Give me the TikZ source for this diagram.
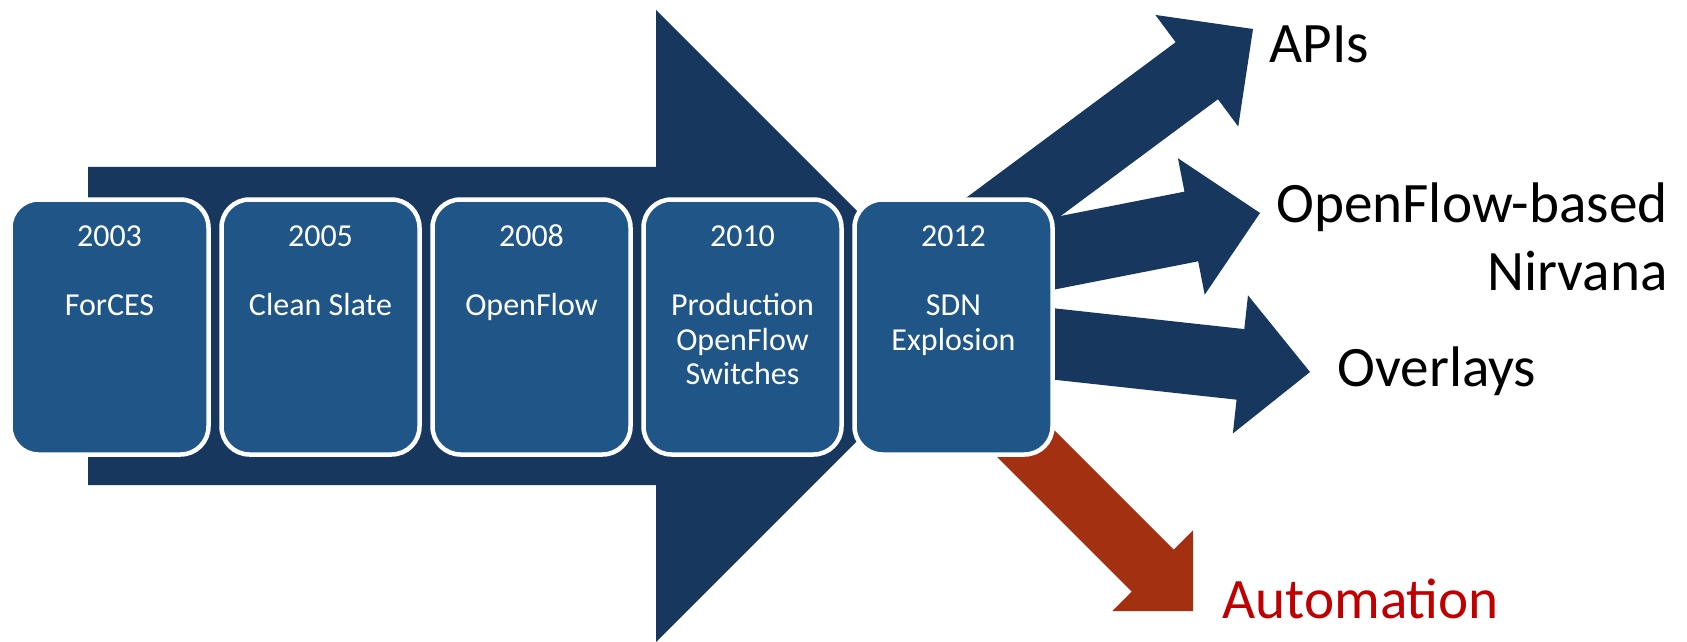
\documentclass[tikz,border=0pt]{standalone}
\usepackage{fontspec}
\setmainfont{Carlito}
\usetikzlibrary{calc}
\definecolor{arrowblue}{HTML}{17375E}
\definecolor{boxblue}{HTML}{1F5687}
\definecolor{arrowred}{HTML}{A33010}
\definecolor{textred}{HTML}{C00000}
% #1 colour, #2 tail, #3 tip, #4 half shaft width, #5 half head width, #6 head length
\newcommand{\myblockarrow}[6]{%
  \coordinate (ba-h) at ($(#3)!#6!(#2)$);
  \fill[#1] ($(#2)!#4!90:(#3)$) -- ($(ba-h)!#4!-90:(#2)$) -- ($(ba-h)!#5!-90:(#2)$)
    -- (#3) -- ($(ba-h)!#5!90:(#2)$) -- ($(ba-h)!#4!90:(#2)$) -- ($(#2)!#4!-90:(#3)$) -- cycle;
}
\tikzset{
  yearbox/.style={draw=white, line width=2.25pt, fill=boxblue, rounded corners=14pt,
    minimum width=99pt, minimum height=127.5pt, inner sep=0pt},
  boxtext/.style={anchor=base, inner sep=0pt, text=white, font=\fontsize{16pt}{19pt}\selectfont},
  bigtext/.style={inner sep=0pt, text=black, font=\fontsize{28.6pt}{34pt}\selectfont},
}
\begin{document}
\begin{tikzpicture}[x=0.5pt, y=-0.5pt]
\useasboundingbox (0,0) rectangle (1687,642);
% big background arrow
\fill[arrowblue] (88,167) -- (656,167) -- (656,10) -- (972,326) -- (656,642) -- (656,485) -- (88,485) -- cycle;
% outgoing arrows
\coordinate (apiT) at (985,228);  \coordinate (apiP) at (1253,29);
\coordinate (ofT) at (990,266);   \coordinate (ofP) at (1260,213);
\coordinate (ovT) at (990,337);   \coordinate (ovP) at (1310,372);
\coordinate (auT) at (1000,418);  \coordinate (auP) at (1193,611);
\myblockarrow{arrowblue}{apiT}{apiP}{17.75pt}{34.75pt}{35pt}
\myblockarrow{arrowblue}{ofT}{ofP}{17.75pt}{34.75pt}{35pt}
\myblockarrow{arrowblue}{ovT}{ovP}{17.75pt}{34.75pt}{35pt}
\myblockarrow{arrowred}{auT}{auP}{14.85pt}{28.5pt}{28.5pt}
% boxes
\node[yearbox] (b1) at (109.5,327) {};
\node[yearbox] (b2) at (320.5,327) {};
\node[yearbox] (b3) at (531.5,327) {};
\node[yearbox] (b4) at (742.5,327) {};
\node[yearbox] (b5) at (953.5,327) {};
% box texts
\node[boxtext] (y1) at (109.5,246) {2003};
\node[boxtext] (t1) at (109.5,315.5) {ForCES};
\node[boxtext] (y2) at (320.5,246) {2005};
\node[boxtext] (t2) at (320.5,315.5) {Clean Slate};
\node[boxtext] (y3) at (531.5,246) {2008};
\node[boxtext] (t3) at (531.5,315.5) {OpenFlow};
\node[boxtext] (y4) at (742.5,246) {2010};
\node[boxtext] (t4a) at (742.5,315.5) {Production};
\node[boxtext] (t4b) at (742.5,350) {OpenFlow};
\node[boxtext] (t4c) at (742.5,384.5) {Switches};
\node[boxtext] (y5) at (953.5,246) {2012};
\node[boxtext] (t5a) at (953.5,315.5) {SDN};
\node[boxtext] (t5b) at (953.5,350) {Explosion};
% outcome labels
\node[bigtext, anchor=base west] (apis) at (1269,63) {APIs};
\node[bigtext, anchor=base east] (ofb) at (1668,222) {OpenFlow-based};
\node[bigtext, anchor=base east] (nirv) at (1668,290) {Nirvana};
\node[bigtext, anchor=base west] (ovl) at (1337,386) {Overlays};
\node[bigtext, anchor=base west, text=textred] (auto) at (1222,618) {Automation};
\end{tikzpicture}
\end{document}
